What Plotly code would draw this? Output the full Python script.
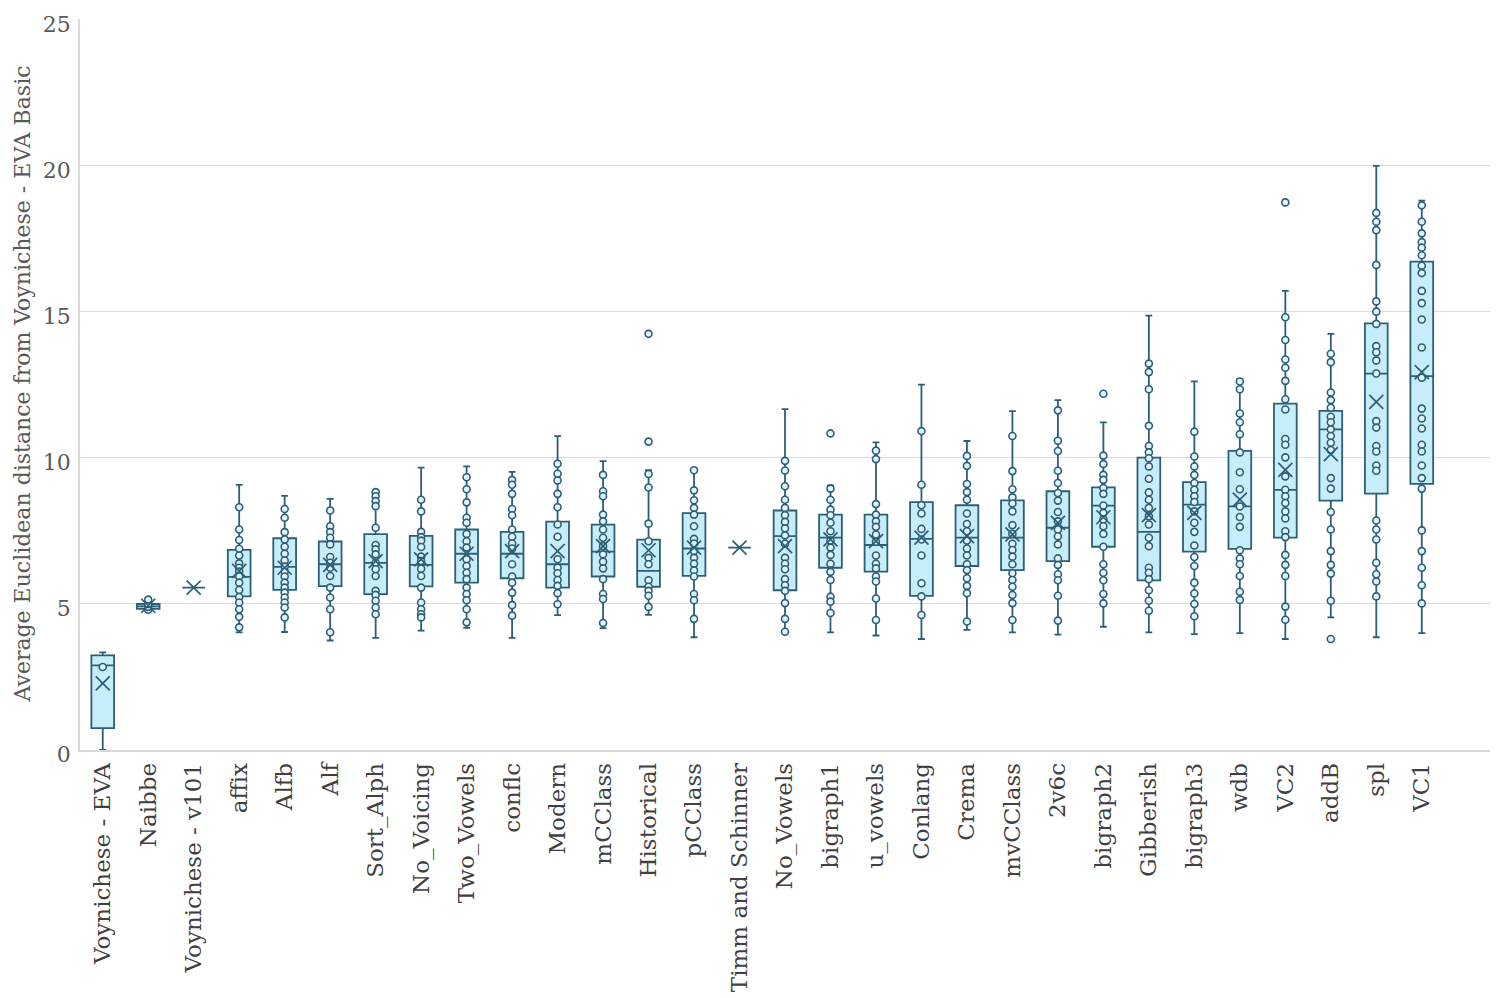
import plotly.graph_objects as go

categories = ["Voynichese - EVA", "Naibbe", "Voynichese - v101", "affix", "Alfb", "Alf",
              "Sort_Alph", "No_Voicing", "Two_Vowels", "conflc", "Modern", "mCClass",
              "Historical", "pCClass", "Timm and Schinner", "No_Vowels", "bigraph1",
              "u_vowels", "Conlang", "Crema", "mvCClass", "2v6c", "bigraph2", "Gibberish",
              "bigraph3", "wdb", "VC2", "addB", "spl", "VC1"]

q1_vals = [0.75, 4.83, 5.56, 5.26, 5.48, 5.61, 5.34, 5.60, 5.73, 5.88, 5.56, 5.94, 5.59, 5.96,
           6.93, 5.47, 6.24, 6.11, 5.28, 6.30, 6.16, 6.47, 6.96, 5.81, 6.79, 6.89, 7.27,
           8.54, 8.78, 9.11]
median_vals = [2.90, 4.92, 5.56, 5.93, 6.27, 6.36, 6.41, 6.34, 6.72, 6.72, 6.36, 6.79, 6.13,
               6.90, 6.93, 7.32, 7.27, 7.02, 7.23, 7.27, 7.27, 7.61, 8.37, 7.47, 8.40, 8.34,
               8.91, 10.98, 12.89, 12.80]
q3_vals = [3.24, 5.00, 5.56, 6.85, 7.25, 7.14, 7.39, 7.33, 7.55, 7.47, 7.82, 7.72, 7.20, 8.11,
           6.93, 8.20, 8.06, 8.06, 8.49, 8.38, 8.55, 8.86, 8.99, 10.01, 9.17, 10.24, 11.86,
           11.61, 14.61, 16.72]
whisker_low = [0.0, 4.77, 5.56, 4.03, 4.04, 3.75, 3.84, 4.09, 4.18, 3.84, 4.62, 4.17, 4.63,
               3.86, 6.93, 4.03, 4.03, 3.92, 3.80, 4.11, 4.03, 3.95, 4.22, 4.03, 3.97, 4.00,
               3.80, 4.54, 3.86, 4.00]
whisker_high = [3.34, 5.19, 5.56, 9.08, 8.70, 8.60, 8.86, 9.67, 9.71, 9.52, 10.75, 9.89, 9.58,
                9.65, 6.93, 11.67, 9.06, 10.53, 12.51, 10.58, 11.60, 11.98, 11.22, 14.87,
                12.62, 12.71, 15.72, 14.25, 20.00, 18.81]
mean_vals = [2.28, 4.94, 5.56, 6.13, 6.24, 6.34, 6.47, 6.53, 6.72, 6.81, 6.81, 6.98, 6.84,
             6.93, 6.93, 6.98, 7.21, 7.15, 7.27, 7.32, 7.38, 7.78, 7.97, 8.04, 8.12, 8.57,
             9.59, 10.13, 11.92, 12.94]

pts_voy_eva = [2.84]
pts_naibbe = [4.80, 4.90, 5.00, 5.15]
pts_v101 = []
pts_affix = [8.31, 7.55, 7.19, 6.89, 6.66, 6.39, 6.24, 6.11, 5.94, 5.73, 5.48, 5.24, 5.05,
             4.82, 4.56, 4.20]
pts_alfb = [8.25, 7.95, 7.46, 7.21, 6.96, 6.72, 6.49, 6.28, 6.11, 5.94, 5.73, 5.56, 5.39,
            5.22, 5.05, 4.88, 4.54]
pts_alf = [8.20, 7.66, 7.46, 7.27, 7.04, 6.61, 6.41, 6.24, 5.96, 5.56, 5.22, 4.82, 4.03]
pts_sort_alph = [8.83, 8.69, 8.52, 8.35, 7.61, 7.02, 6.87, 6.70, 6.41, 6.19, 5.96, 5.45,
                 5.31, 5.11, 4.88, 4.65]
pts_no_voicing = [8.57, 8.17, 7.47, 7.29, 7.17, 6.95, 6.62, 6.47, 6.21, 5.96, 5.56, 5.05,
                  4.82, 4.65, 4.54]
pts_two_vowels = [9.34, 8.93, 8.48, 7.95, 7.78, 7.40, 7.15, 6.93, 6.53, 6.30, 6.07, 5.85,
                  5.56, 5.34, 5.13, 4.82, 4.37]
pts_conflc = [9.25, 9.08, 8.77, 8.25, 8.04, 7.55, 7.30, 7.07, 6.90, 6.36, 5.94, 5.73, 5.39,
              4.96, 4.60]
pts_modern = [9.80, 9.46, 9.23, 8.77, 8.31, 7.72, 7.30, 6.53, 6.24, 6.05, 5.82, 5.62, 5.37,
              4.99]
pts_mcclass = [9.42, 8.86, 8.69, 8.06, 7.83, 7.55, 7.27, 6.98, 6.70, 6.45, 6.22, 5.85, 5.34,
               5.17, 4.35]
pts_historical = [14.25, 10.56, 9.45, 8.99, 7.75, 7.15, 6.58, 6.36, 5.81, 5.59, 5.45, 5.28,
                  4.90]
pts_pcclass = [9.58, 8.89, 8.55, 8.29, 8.06, 7.66, 7.23, 7.07, 6.81, 6.58, 6.38, 6.15, 5.94,
               5.34, 5.13, 4.49]
pts_timm = []
pts_no_vowels = [9.90, 9.57, 9.03, 8.57, 8.29, 8.04, 7.81, 7.59, 7.35, 7.06, 6.58, 6.38,
                 6.19, 5.85, 5.64, 5.45, 5.03, 4.49, 4.05]
pts_bigraph1 = [10.84, 8.95, 8.57, 8.23, 8.04, 7.78, 7.49, 7.17, 6.93, 6.68, 6.38, 6.10,
                5.82, 5.25, 5.08, 4.69]
pts_u_vowels = [10.25, 9.96, 8.42, 8.06, 7.83, 7.64, 7.38, 7.13, 6.66, 6.38, 6.22, 5.94,
                5.77, 5.19, 4.45]
pts_conlang = [10.92, 9.08, 8.38, 8.10, 7.57, 7.21, 6.66, 5.71, 5.26, 4.62]
pts_crema = [10.07, 9.73, 9.11, 8.83, 8.57, 8.10, 7.74, 7.49, 7.17, 6.90, 6.66, 6.36, 6.16,
             5.88, 5.62, 5.37, 4.40]
pts_mvcclass = [10.75, 9.55, 8.93, 8.65, 8.44, 8.17, 7.70, 7.40, 7.06, 6.85, 6.62, 6.36,
                6.05, 5.82, 5.59, 5.31, 5.03, 4.45]
pts_2v6c = [11.63, 10.59, 10.24, 9.56, 9.14, 8.80, 8.54, 8.15, 7.83, 7.55, 7.32, 7.04, 6.56,
            6.34, 6.02, 5.81, 5.28, 4.43]
pts_bigraph2 = [12.20, 10.08, 9.79, 9.42, 9.25, 8.97, 8.77, 8.37, 8.12, 7.89, 7.66, 7.40,
                6.96, 6.36, 6.07, 5.81, 5.34, 5.02]
pts_gibberish = [13.23, 12.94, 12.35, 11.10, 10.41, 10.19, 9.99, 9.71, 9.29, 8.82, 8.57,
                 8.29, 8.00, 7.72, 7.27, 6.98, 6.24, 6.07, 5.85, 5.47, 5.11, 4.77]
pts_bigraph3 = [10.90, 10.05, 9.71, 9.42, 9.14, 8.91, 8.69, 8.49, 8.17, 7.78, 7.47, 7.00,
                6.61, 6.30, 5.73, 5.36, 5.00, 4.58]
pts_wdb = [12.62, 12.35, 11.52, 11.22, 10.81, 10.19, 9.51, 8.93, 8.34, 7.98, 7.64, 6.84,
           6.56, 6.36, 5.96, 5.42, 5.14]
pts_vc2 = [18.75, 14.82, 14.04, 13.37, 13.09, 12.64, 12.01, 11.66, 10.65, 10.45, 10.02, 9.37,
           8.91, 8.69, 8.46, 8.17, 7.93, 7.49, 7.29, 6.68, 6.34, 5.96, 4.91, 4.46]
pts_addb = [13.57, 13.28, 12.24, 11.98, 11.72, 11.41, 11.22, 10.98, 10.75, 10.52, 10.27,
            9.31, 8.95, 8.15, 7.55, 6.81, 6.34, 6.04, 5.11, 3.80]
pts_spl = [18.39, 18.09, 17.80, 16.61, 15.36, 15.01, 14.59, 13.83, 13.62, 13.34, 12.89,
           11.26, 11.04, 10.41, 10.22, 9.74, 9.56, 7.86, 7.55, 7.21, 6.41, 6.02, 5.77, 5.26]
pts_vc1 = [18.65, 18.09, 17.69, 17.39, 17.20, 16.94, 16.58, 16.33, 15.72, 15.30, 14.74,
           13.78, 12.75, 11.69, 11.35, 11.01, 10.45, 10.22, 9.74, 9.31, 8.95, 7.52, 6.81,
           6.24, 5.64, 5.02]

point_lists = [pts_voy_eva, pts_naibbe, pts_v101, pts_affix, pts_alfb, pts_alf, pts_sort_alph,
               pts_no_voicing, pts_two_vowels, pts_conflc, pts_modern, pts_mcclass,
               pts_historical, pts_pcclass, pts_timm, pts_no_vowels, pts_bigraph1,
               pts_u_vowels, pts_conlang, pts_crema, pts_mvcclass, pts_2v6c, pts_bigraph2,
               pts_gibberish, pts_bigraph3, pts_wdb, pts_vc2, pts_addb, pts_spl, pts_vc1]

y_title = "Average Euclidean distance from Voynichese - EVA Basic"

DARK = "#2b5f78"
FILL = "#c8edfa"
FONT = "DejaVu Serif"

fig = go.Figure()

fig.add_trace(go.Box(
    x=categories, q1=q1_vals, median=median_vals, q3=q3_vals,
    lowerfence=whisker_low, upperfence=whisker_high,
    boxpoints=False, width=0.5, whiskerwidth=0.3,
    fillcolor=FILL, line=dict(color=DARK, width=1.8),
    showlegend=False, hoverinfo="skip",
))

px_, py_ = [], []
for cat, pts in zip(categories, point_lists):
    px_.extend([cat] * len(pts))
    py_.extend(pts)

fig.add_trace(go.Scatter(
    x=px_, y=py_, mode="markers",
    marker=dict(symbol="circle", size=7, color="#e3f5fc",
                line=dict(color=DARK, width=1.6)),
    showlegend=False, hoverinfo="skip",
))

fig.add_trace(go.Scatter(
    x=categories, y=mean_vals, mode="markers",
    marker=dict(symbol="x-thin", size=14, line=dict(color=DARK, width=1.7)),
    showlegend=False, hoverinfo="skip",
))

fig.update_layout(
    width=1492, height=990,
    margin=dict(l=72, r=10, t=11, b=248),
    plot_bgcolor="white", paper_bgcolor="white",
    font=dict(family=FONT, size=23, color="#404040"),
    showlegend=False,
)

fig.update_xaxes(
    type="category", range=[-0.5, 30.5], tickangle=-90, automargin=False,
    showgrid=False, showline=True, linecolor="#d9d9d9", linewidth=1.5,
    ticks="", tickfont=dict(family=FONT, size=23, color="#404040"),
    ticklabelstandoff=2,
)
fig.update_yaxes(
    range=[0, 25.03], tickvals=[0, 5, 10, 15, 20, 25], showgrid=True,
    gridcolor="#dcdcdc", gridwidth=1,
    showline=True, linecolor="#d9d9d9", linewidth=1.5, zeroline=False, automargin=False,
    ticks="", tickfont=dict(family=FONT, size=22, color="#595959"),
    ticklabelstandoff=3, ticklabeloverflow="allow", ticklabelshift=4,
)

fig.add_annotation(
    text=y_title, textangle=-90, xref="paper", yref="paper",
    x=-0.0411, y=0.5, xanchor="center", yanchor="middle", showarrow=False,
    font=dict(family=FONT, size=22, color="#595959"),
)

fig.write_html("out.html")
